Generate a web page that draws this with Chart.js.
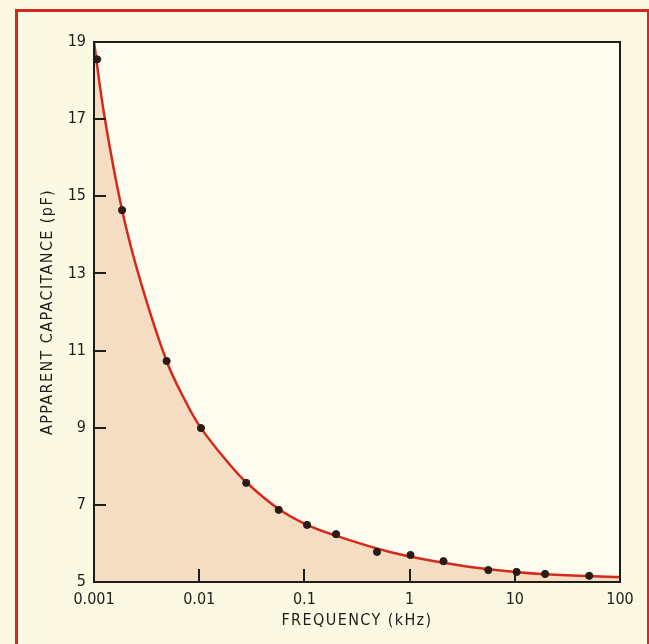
<!DOCTYPE html>
<html>
<head>
<meta charset="utf-8">
<script src="https://cdn.jsdelivr.net/npm/chart.js@4.4.1/dist/chart.umd.min.js"></script>
<style>
  html, body { margin: 0; padding: 0; background: #fbf9e4; overflow: hidden; }
  #wrap { position: relative; width: 649px; height: 644px; }
  #frame { position: absolute; left: 15px; top: 9px; width: 629px; height: 700px;
           border: 3px solid #cf2a1c; border-bottom: none; pointer-events: none; }
</style>
</head>
<body>
<div id="wrap">
  <canvas id="capChart" width="649" height="644"></canvas>
  <div id="frame"></div>
</div>
<script>
// measured points (kHz, pF)
const measFreq = [0.00107, 0.00185, 0.0049, 0.0104, 0.028, 0.057, 0.106, 0.2, 0.49, 1.02, 2.1, 5.6, 10.4, 19.4, 51];
const measCap  = [18.55, 14.64, 10.73, 8.99, 7.57, 6.87, 6.48, 6.24, 5.78, 5.70, 5.54, 5.31, 5.26, 5.21, 5.16];

// fitted curve
const curveFreq = [0.001, 0.00126, 0.00185, 0.0028, 0.0049, 0.0073, 0.0104, 0.0196, 0.0279, 0.057, 0.106, 0.2, 0.65, 2.1, 5.6, 19.4, 100];
const curveCap  = [19.0, 17.06, 14.64, 12.75, 10.73, 9.72, 8.99, 8.04, 7.59, 6.89, 6.48, 6.2, 5.78, 5.5, 5.33, 5.2, 5.13];

const xTicks = [0.001, 0.01, 0.1, 1, 10, 100];
const xTickLabels = ['0.001', '0.01', '0.1', '1', '10', '100'];
const yTicks = [5, 7, 9, 11, 13, 15, 17, 19];

const FONT = "'DejaVu Sans Condensed', 'Liberation Sans', sans-serif";
const INK = '#1f1d1a';

const paperPlugin = {
  id: 'paper',
  afterLayout(chart) {
    // spaced-out axis titles like the original lettering
    Object.values(chart.scales).forEach(s => {
      if (s._spaced) return;
      const orig = s.drawTitle.bind(s);
      s.drawTitle = function () {
        const c = this.ctx;
        c.save();
        c.letterSpacing = '1.4px';
        orig();
        c.restore();
      };
      s._spaced = true;
    });
  },
  beforeDraw(chart) {
    const { ctx, chartArea: a } = chart;
    ctx.save();
    ctx.fillStyle = '#fbf9e4';
    ctx.fillRect(0, 0, chart.width, chart.height);
    ctx.fillStyle = '#fefdf0';
    ctx.fillRect(a.left, a.top, a.right - a.left, a.bottom - a.top);
    ctx.restore();
  },
  afterDraw(chart) {
    const { ctx, chartArea: a, scales } = chart;
    ctx.save();
    ctx.strokeStyle = INK;
    ctx.lineWidth = 2;
    ctx.strokeRect(a.left, a.top, a.right - a.left, a.bottom - a.top);
    // inward tick marks
    ctx.beginPath();
    yTicks.slice(1, -1).forEach(v => {
      const y = Math.round(scales.y.getPixelForValue(v));
      ctx.moveTo(a.left, y);
      ctx.lineTo(a.left + 12, y);
    });
    xTicks.slice(1, -1).forEach(v => {
      const x = Math.round(scales.x.getPixelForValue(v));
      ctx.moveTo(x, a.bottom);
      ctx.lineTo(x, a.bottom - 13);
    });
    ctx.stroke();
    ctx.restore();
  }
};

new Chart(document.getElementById('capChart'), {
  type: 'scatter',
  data: {
    datasets: [
      {
        label: 'Measured',
        data: measFreq.map((f, i) => ({ x: f, y: measCap[i] })),
        backgroundColor: '#2a1c14',
        borderColor: '#2a1c14',
        pointRadius: 3.6,
        showLine: false,
        order: 0
      },
      {
        label: 'Curve',
        data: curveFreq.map((f, i) => ({ x: f, y: curveCap[i] })),
        showLine: true,
        borderColor: '#d42a1c',
        borderWidth: 2.5,
        pointRadius: 0,
        tension: 0.4,
        fill: 'start',
        backgroundColor: '#f5ddc4',
        order: 1
      }
    ]
  },
  options: {
    responsive: false,
    animation: false,
    devicePixelRatio: 1,
    layout: { padding: { top: 42, right: 29, left: 0, bottom: 0 } },
    plugins: { legend: { display: false }, tooltip: { enabled: false } },
    scales: {
      x: {
        type: 'logarithmic',
        min: 0.001,
        max: 100,
        afterBuildTicks: scale => { scale.ticks = xTicks.map(v => ({ value: v })); },
        afterFit: scale => { scale.height = 62; },
        ticks: {
          color: INK,
          font: { family: FONT, size: 16 },
          padding: 8,
          maxRotation: 0,
          autoSkip: false,
          callback: (v, i) => xTickLabels[i]
        },
        grid: { drawOnChartArea: false, drawTicks: false },
        border: { display: false },
        title: {
          display: true,
          text: 'FREQUENCY (kHz)',
          color: INK,
          font: { family: FONT, size: 16 },
          padding: { top: 0, bottom: 14 }
        }
      },
      y: {
        min: 5,
        max: 19,
        afterBuildTicks: scale => { scale.ticks = yTicks.map(v => ({ value: v })); },
        afterFit: scale => { scale.width = 94; },
        ticks: {
          color: INK,
          font: { family: FONT, size: 16 },
          padding: 8
        },
        grid: { drawOnChartArea: false, drawTicks: false },
        border: { display: false },
        title: {
          display: true,
          text: 'APPARENT CAPACITANCE (pF)',
          color: INK,
          font: { family: FONT, size: 16 },
          padding: { top: 38, bottom: 0 }
        }
      }
    }
  },
  plugins: [paperPlugin]
});
</script>
</body>
</html>
